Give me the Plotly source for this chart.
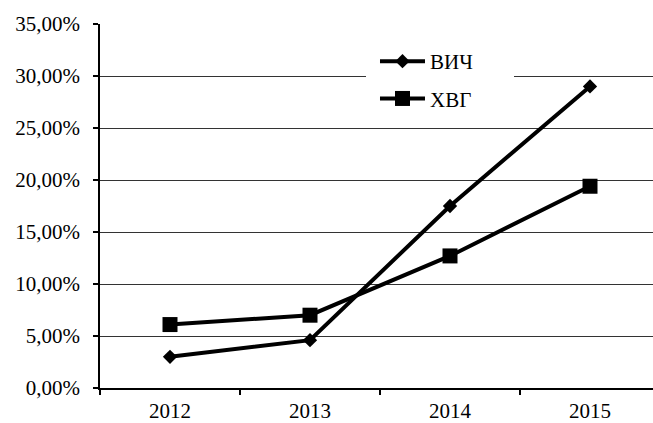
import plotly.graph_objects as go

years = ["2012", "2013", "2014", "2015"]
hiv = [0.030, 0.046, 0.175, 0.290]      # ВИЧ
hvg = [0.061, 0.070, 0.127, 0.194]      # ХВГ
y_ticks = [0.0, 0.05, 0.10, 0.15, 0.20, 0.25, 0.30, 0.35]

FONT = "Liberation Serif"
PAD = "\u00a0" * 5

fig = go.Figure()
fig.add_trace(go.Scatter(
    x=years, y=hiv, name="ВИЧ" + PAD, legendgroup="hiv", mode="lines+markers",
    line=dict(color="black", width=4),
    marker=dict(symbol="diamond", size=11, color="black"),
))
fig.add_trace(go.Scatter(
    x=years, y=hvg, name="ХВГ" + PAD, legendgroup="hvg", mode="lines+markers",
    line=dict(color="black", width=4),
    marker=dict(symbol="square", size=15, color="black"),
))

fig.update_layout(
    width=653, height=423,
    margin=dict(l=100, r=0, t=24, b=35),
    paper_bgcolor="white", plot_bgcolor="white",
    separators=", ",
    font=dict(family=FONT, size=21, color="black"),
    showlegend=True,
    legend=dict(
        x=0.481, y=0.978, xanchor="left", yanchor="top",
        bgcolor="white", bordercolor="white", borderwidth=9,
        font=dict(family=FONT, size=21, color="black"),
        traceorder="grouped", tracegroupgap=7, itemwidth=45,
    ),
)
fig.update_xaxes(
    type="category", range=[-0.5, 3.45],
    showline=True, linecolor="black", linewidth=1.5,
    ticks="outside", ticklen=5, tickcolor="black", tickwidth=1.5,
    tickson="boundaries", showgrid=False, zeroline=False,
    ticklabelstandoff=3,
    tickfont=dict(family=FONT, size=21, color="black"),
)
fig.update_yaxes(
    range=[0, 0.35], tickvals=y_ticks, tickformat=".2%",
    showline=True, linecolor="black", linewidth=1.5,
    ticks="outside", ticklen=5, tickcolor="black", tickwidth=1.5,
    showgrid=True, gridcolor="#333333", gridwidth=1,
    zeroline=False, ticklabelstandoff=9,
    tickfont=dict(family=FONT, size=21, color="black"),
)

fig.write_html("out.html")
